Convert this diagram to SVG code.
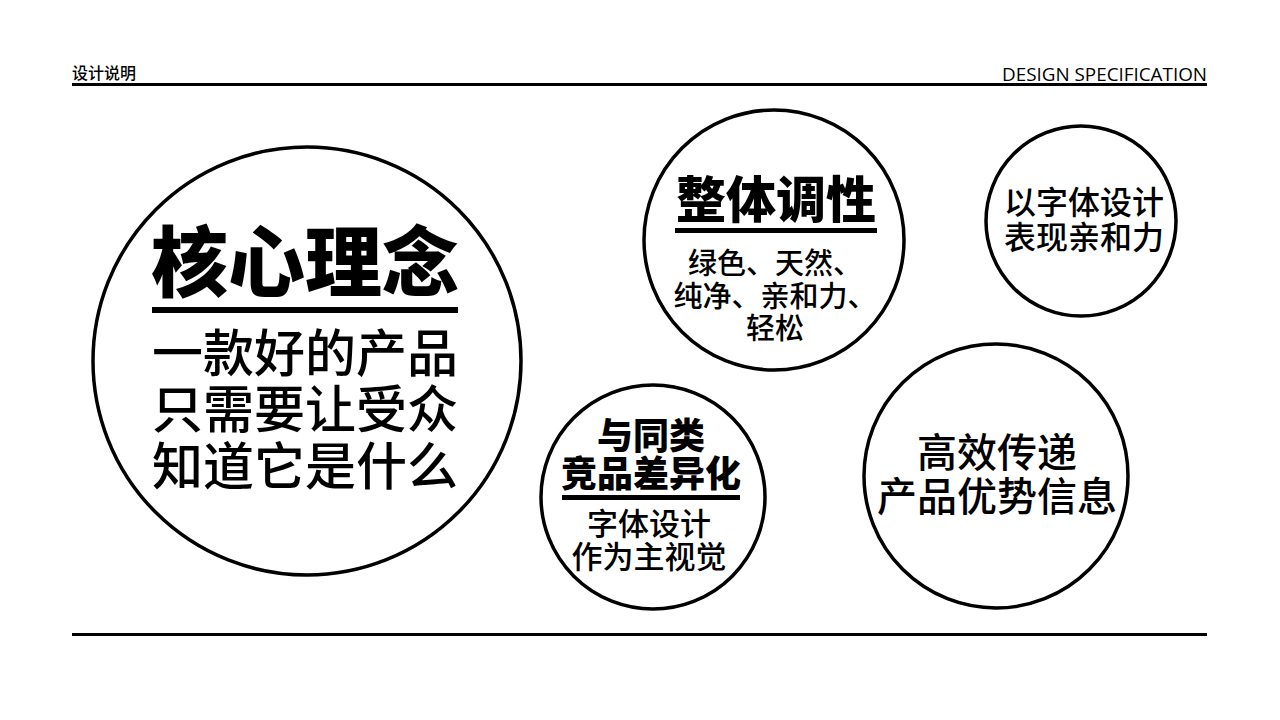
<svg xmlns="http://www.w3.org/2000/svg" width="1280" height="720" viewBox="0 0 1280 720">
<style>
.cjk{font-family:"Noto Sans CJK SC","Noto Sans",sans-serif;fill:#000;text-anchor:middle;font-weight:500}
.b{font-weight:900}
.circ{fill:#fff;stroke:#000;stroke-width:3.5}
.rule{stroke:#000;stroke-width:3}
</style>
<rect width="1280" height="720" fill="#fff"/>
<g id="header">
<text x="72" y="79" font-family="Noto Sans CJK SC, sans-serif" font-size="16" font-weight="500">设计说明</text>
<text x="1207" y="81" font-family="Open Sans, Lato, sans-serif" font-size="18" text-anchor="end" textLength="205" lengthAdjust="spacingAndGlyphs">DESIGN SPECIFICATION</text>
<line class="rule" x1="72" y1="84.5" x2="1207" y2="84.5"/>
<line class="rule" x1="72" y1="634.5" x2="1207" y2="634.5"/>
</g>
<g id="core">
<circle class="circ" cx="307" cy="361" r="214" stroke-width="5"/>
<text class="cjk b" x="305" y="291" font-size="77">核心理念</text>
<rect x="152" y="307" width="306" height="6"/>
<text class="cjk" x="305" y="372" font-size="51">一款好的产品</text>
<text class="cjk" x="305" y="428" font-size="51">只需要让受众</text>
<text class="cjk" x="305" y="485" font-size="51">知道它是什么</text>
</g>
<g id="tone">
<circle class="circ" cx="774" cy="240" r="130"/>
<text class="cjk b" x="776" y="218" font-size="50">整体调性</text>
<rect x="675" y="228" width="202" height="5"/>
<text class="cjk" x="775" y="274" font-size="29">绿色、天然、</text>
<text class="cjk" x="775" y="307" font-size="29">纯净、亲和力、</text>
<text class="cjk" x="775" y="339" font-size="29">轻松</text>
</g>
<g id="affinity">
<circle class="circ" cx="1081" cy="221" r="95"/>
<text class="cjk" x="1084" y="214" font-size="32">以字体设计</text>
<text class="cjk" x="1084" y="249" font-size="32">表现亲和力</text>
</g>
<g id="differ">
<circle class="circ" cx="653" cy="497" r="112"/>
<text class="cjk b" x="651" y="449" font-size="36">与同类</text>
<text class="cjk b" x="651" y="487" font-size="36">竞品差异化</text>
<rect x="562" y="495" width="178" height="5"/>
<text class="cjk" x="649" y="535" font-size="31">字体设计</text>
<text class="cjk" x="649" y="568" font-size="31">作为主视觉</text>
</g>
<g id="efficient">
<circle class="circ" cx="996" cy="476" r="132"/>
<text class="cjk" x="997" y="467" font-size="40">高效传递</text>
<text class="cjk" x="997" y="511" font-size="40">产品优势信息</text>
</g>
<g id="connectors"/>
</svg>
